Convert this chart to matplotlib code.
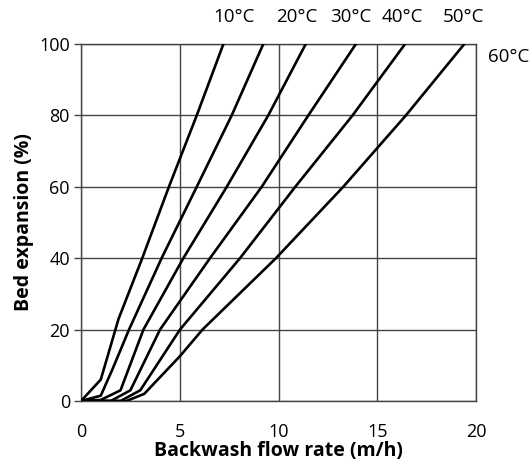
import matplotlib
matplotlib.use("Agg")
import matplotlib.pyplot as plt

plt.rcParams['font.family'] = ['Open Sans', 'DejaVu Sans']

temps = ["10°C", "20°C", "30°C", "40°C", "50°C", "60°C"]

# flow rate (m/h) and bed expansion (%)
flow_10 = [0, 1.0, 1.9, 3.1, 4.45, 5.86, 7.21]
exp_10 = [0, 6, 23, 40, 60, 80, 100]

flow_20 = [0, 1.0, 1.6, 2.43, 4.08, 5.86, 7.63, 9.23]
exp_20 = [0, 1.5, 9, 20, 40, 60, 80, 100]

flow_30 = [0, 1.0, 2.0, 3.16, 5.18, 7.38, 9.48, 11.38]
exp_30 = [0, 0.3, 3, 20, 40, 60, 80, 100]

flow_40 = [0, 1.5, 2.5, 4.0, 6.53, 9.15, 11.51, 13.92]
exp_40 = [0, 0, 3, 20, 40, 60, 80, 100]

flow_50 = [0, 2.0, 3.0, 5.01, 8.05, 10.85, 13.75, 16.41]
exp_50 = [0, 0, 3, 20, 40, 60, 80, 100]

flow_60 = [0, 2.3, 3.2, 5.0, 6.15, 9.87, 13.28, 16.45, 19.41]
exp_60 = [0, 0, 2, 12.5, 20, 40, 60, 80, 100]

curves = [(flow_10, exp_10), (flow_20, exp_20), (flow_30, exp_30),
          (flow_40, exp_40), (flow_50, exp_50), (flow_60, exp_60)]

x_ticks = [0, 5, 10, 15, 20]
y_ticks = [0, 20, 40, 60, 80, 100]


def main():
    fig = plt.figure(figsize=(5.32, 4.67), dpi=100)
    ax = fig.add_axes([0.1523, 0.1413, 0.7424, 0.7645])

    for fl, ex in curves:
        ax.plot(fl, ex, color='black', linewidth=1.9, solid_joinstyle='round', zorder=3)

    ax.set_xlim(0, 20)
    ax.set_ylim(0, 100)
    ax.set_xticks(x_ticks)
    ax.set_yticks(y_ticks)
    ax.grid(True, color='#444444', linewidth=1.0)
    for s in ax.spines.values():
        s.set_color('#444444')
        s.set_linewidth(1.0)
    ax.tick_params(axis='x', length=0, pad=16, labelsize=13)
    ax.tick_params(axis='y', length=5, width=1.0, color='#444444', pad=3, labelsize=13)

    ax.set_xlabel("Backwash flow rate (m/h)", fontsize=14, fontweight='bold', labelpad=0)
    ax.set_ylabel("Bed expansion (%)", fontsize=14, fontweight='bold', labelpad=4)

    # curve labels above / beside the plot
    label_x = [7.75, 10.94, 13.67, 16.25, 19.39, 21.67]
    label_y = [107.6, 107.6, 107.6, 107.6, 107.6, 96.4]
    for t, lx, ly in zip(temps, label_x, label_y):
        ax.text(lx, ly, t, fontsize=13.5, ha='center', va='center', clip_on=False)

    fig.savefig("out.png", dpi=100)


if __name__ == "__main__":
    main()
